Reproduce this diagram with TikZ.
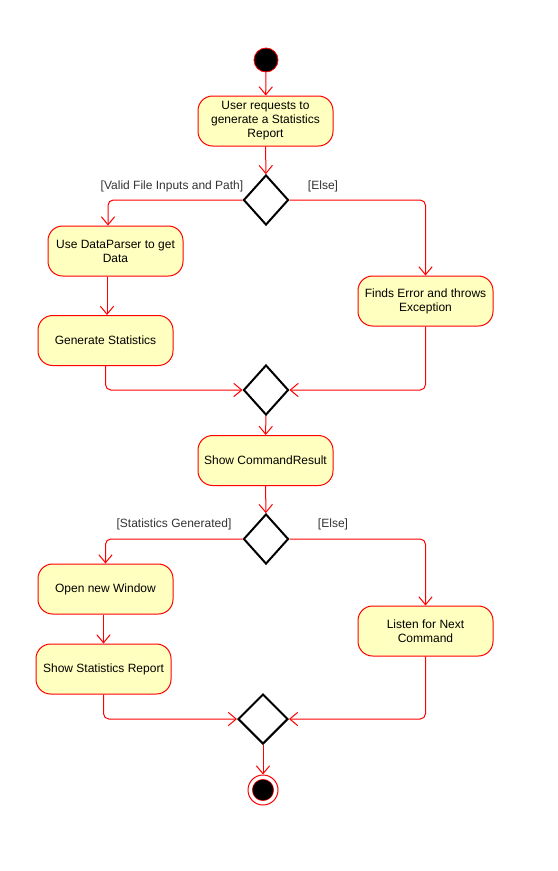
\documentclass[tikz,border=0pt]{standalone}
\usepackage{fontspec}
\setmainfont{Liberation Sans}
\usetikzlibrary{arrows.meta,shapes.geometric,calc}
\definecolor{boxfill}{HTML}{FFFFC0}
\definecolor{boxline}{HTML}{FF0000}
\definecolor{labelgray}{HTML}{333333}
\begin{document}
\begin{tikzpicture}[x=0.75pt,y=-0.75pt,
  act/.style={draw=boxline, fill=boxfill, rounded corners=11pt, minimum width=101.25pt, minimum height=37.5pt, align=center, font=\fontsize{9}{10.5}\selectfont, inner sep=2pt, line width=0.75pt},
  dec/.style={diamond, draw=black, fill=white, line width=1.5pt, inner sep=0pt, minimum width=33.75pt, minimum height=37.5pt},
  flow/.style={draw=boxline, line width=0.75pt, rounded corners=4pt, -{Straight Barb[length=6pt,width=10pt]}},
  guard/.style={font=\fontsize{9}{10.5}\selectfont, text=labelgray, inner sep=0pt},
]
\useasboundingbox (0,0) rectangle (557,871);

\node[circle, fill=black, draw=boxline, line width=0.6pt, minimum size=18pt, inner sep=0pt] (start) at (266,60) {};
\node[act] (b1) at (265.5,121) {User requests to\\generate a Statistics\\Report};
\node[dec] (d1) at (266,200) {};
\node[guard] (g1) at (172,186) {[Valid File Inputs and Path]};
\node[guard] (g2) at (323,186) {[Else]};
\node[act] (b2) at (115.5,251) {Use DataParser to get\\Data};
\node[act] (b3) at (105.5,340.5) {Generate Statistics};
\node[act] (b4) at (425.5,301) {Finds Error and throws\\Exception};
\node[dec] (d2) at (266,390) {};
\node[act] (b5) at (265.5,460.5) {Show CommandResult};
\node[dec] (d3) at (266,539) {};
\node[guard] (g3) at (174,524) {[Statistics Generated]};
\node[guard] (g4) at (333,524) {[Else]};
\node[act] (b6) at (105.5,589) {Open new Window};
\node[act] (b7) at (103.5,669) {Show Statistics Report};
\node[act] (b8) at (425.5,631) {Listen for Next\\Command};
\node[dec, minimum width=37.5pt] (d4) at (263,719) {};
\node[circle, draw=boxline, fill=white, line width=0.75pt, minimum size=22.5pt, inner sep=0pt] (end) at (263,790) {};
\node[circle, fill=black, draw=boxline, line width=0.4pt, minimum size=16pt, inner sep=0pt] (endin) at (end) {};

\coordinate (c2in) at ($(b2.north)+(-7.5,0)$);
\coordinate (c23) at ($(b2.south)+(-8.5,0)$);

\draw[flow] (start) -- (b1);
\draw[flow] (b1) -- (d1);
\draw[flow] (d1.west) -| (c2in);
\draw[flow] (d1.east) -| (b4.north);
\draw[flow] (c23) -- (c23 |- b3.north);
\draw[flow] (b3.south) |- (d2.west);
\draw[flow] (b4.south) |- (d2.east);
\draw[flow] (d2) -- (b5);
\draw[flow] (b5) -- (d3);
\draw[flow] (d3.west) -| (b6.north);
\draw[flow] (b6.south -| b7.north) -- (b7.north);
\draw[flow] (d3.east) -| (b8.north);
\draw[flow] (b7.south) |- (d4.west);
\draw[flow] (b8.south) |- (d4.east);
\draw[flow] (d4) -- (end);
\end{tikzpicture}
\end{document}
